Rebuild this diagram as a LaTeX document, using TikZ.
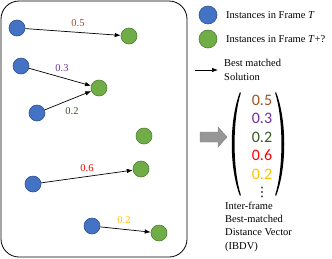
\documentclass[tikz,border=0pt]{standalone}
\usepackage{fontspec}
\setmainfont{Liberation Serif}
\newfontfamily\vecfont{Carlito}
\newfontfamily\symfont{DejaVu Sans}
\usepackage{tikz}
\usetikzlibrary{arrows.meta}
\definecolor{instblue}{RGB}{68, 114, 196}
\definecolor{instblueline}{RGB}{47, 82, 143}
\definecolor{instgreen}{RGB}{112, 173, 71}
\definecolor{instgreenline}{RGB}{80, 126, 50}
\definecolor{dbrown}{RGB}{160, 80, 30}
\definecolor{dpurple}{RGB}{112, 48, 160}
\definecolor{dgreen}{RGB}{56, 87, 35}
\definecolor{dred}{RGB}{255, 0, 0}
\definecolor{dgold}{RGB}{255, 192, 0}
\definecolor{bigarrow}{RGB}{150, 150, 150}
\tikzset{
    instT/.style = {circle, fill = instblue, draw = instblueline, line width = 0.6pt, minimum size = 16pt, inner sep = 0pt},
    instTn/.style = {circle, fill = instgreen, draw = instgreenline, line width = 0.6pt, minimum size = 16pt, inner sep = 0pt},
    match/.style = {-{Latex[length=6pt, width=4.5pt]}, line width = 0.7pt},
    dist/.style = {font = \fontsize{10.5}{12}\selectfont, inner sep = 0pt},
    entry/.style = {font = \vecfont\fontsize{16}{18}\selectfont, inner sep = 0pt},
    legend/.style = {font = \fontsize{10.5}{14}\selectfont, inner sep = 0pt, anchor = west, align = left}
}

\begin{document}
\begin{tikzpicture}[x = 1pt, y = -1pt]
                        \useasboundingbox (0,0) rectangle (332,258);
                        \draw[line width = 0.8pt, rounded corners = 18pt] (1,1) rectangle (187,257);

                        % instances of both frames
                        \node[instT] (b1) at (17,28) {};
                        \node[instT] (b2) at (21,66) {};
                        \node[instT] (b3) at (37,113) {};
                        \node[instT] (b4) at (33,184) {};
                        \node[instT] (b5) at (92,226) {};
                        \node[instTn] (g1) at (129,36) {};
                        \node[instTn] (g2) at (99,88) {};
                        \node[instTn] (g3) at (144,136) {};
                        \node[instTn] (g4) at (141,169) {};
                        \node[instTn] (g5) at (159,233) {};

                        \draw[match] (b1) -- (g1);
                        \draw[match] (b2) -- (g2);
                        \draw[match] (b3) -- (g2);
                        \draw[match] (b4) -- (g4);
                        \draw[match] (b5) -- (g5);

                        \node[dist, text = dbrown] (d1) at (78,23) {0.5};
                        \node[dist, text = dpurple] (d2) at (62,68) {0.3};
                        \node[dist, text = dgreen] (d3) at (72,111) {0.2};
                        \node[dist, text = dred] (d4) at (87,168) {0.6};
                        \node[dist, text = dgold] (d5) at (124,220) {0.2};

                        % legend
                        \node[instT, minimum size = 18pt] (lb) at (208,15) {};
                        \node[legend] (lbt) at (226,15) {Instances in Frame \textit{T}};
                        \node[instTn, minimum size = 18pt] (lg) at (208,39) {};
                        \node[legend] (lgt) at (226,39) {Instances in Frame \textit{T}+?};
                        \coordinate (la) at (195,70);
                        \coordinate (lz) at (218,70);
                        \draw[match] (la) -- (lz);
                        \node[legend] (lat) at (224,70) {Best matched\\Solution};

                        % vector
                        \filldraw[fill = bigarrow, draw = gray] (200,132) -- (218,132) -- (218,127) -- (227,137) -- (218,147) -- (218,142) -- (200,142) -- cycle;
                        \node[entry, text = dbrown] (v1) at (262,100) {0.5};
                        \node[entry, text = dpurple] (v2) at (262,118.5) {0.3};
                        \node[entry, text = dgreen] (v3) at (262,137) {0.2};
                        \node[entry, text = dred] (v4) at (262,155.5) {0.6};
                        \node[entry, text = dgold] (v5) at (262,174) {0.2};
                        \node[inner sep = 0pt, font = \symfont\fontsize{13}{13}\selectfont] (vd) at (262,192) {⋮};
                        \fill (240,92) .. controls (229,120) and (229,168) .. (240,196) -- (240.8,195) .. controls (232.5,168) and (232.5,120) .. (240.8,93) -- cycle;
                        \fill (276,92) .. controls (287,120) and (287,168) .. (276,196) -- (275.2,195) .. controls (283.5,168) and (283.5,120) .. (275.2,93) -- cycle;
                        \node[legend, anchor = north west, font = \fontsize{10.5}{13.2}\selectfont] (vt) at (225,202) {Inter-frame\\Best-matched\\Distance Vector\\(IBDV)};
                    \end{tikzpicture}
\end{document}
